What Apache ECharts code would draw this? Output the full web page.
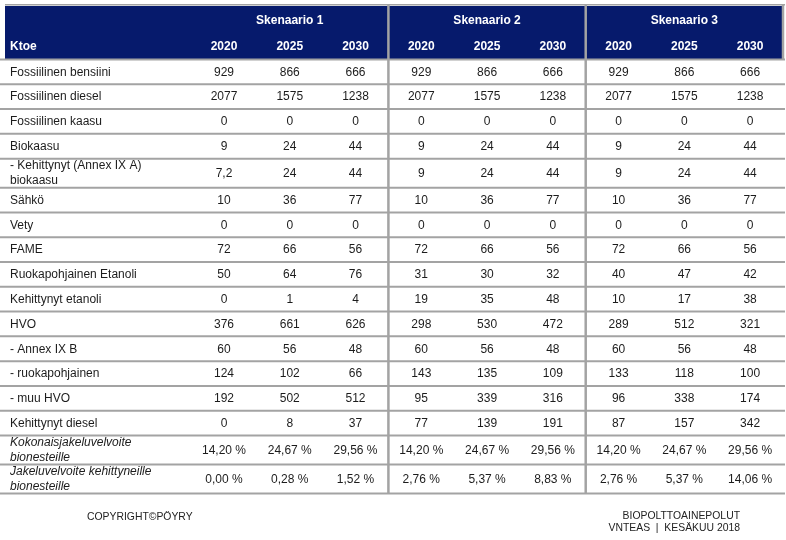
<!DOCTYPE html>
<html>
<head>
<meta charset="utf-8">
<script src="https://cdn.jsdelivr.net/npm/echarts@6/dist/echarts.min.js"></script>
<style>
html,body{margin:0;padding:0;background:#fff;}
#c{width:786px;height:540px;}
</style>
</head>
<body>
<div id="c"></div>
<script>
// ---------- DATA ----------
const categories = [
  'Fossiilinen bensiini',
  'Fossiilinen diesel',
  'Fossiilinen kaasu',
  'Biokaasu',
  '- Kehittynyt (Annex IX A)\nbiokaasu',
  'Sähkö',
  'Vety',
  'FAME',
  'Ruokapohjainen Etanoli',
  'Kehittynyt etanoli',
  'HVO',
  '- Annex IX B',
  '- ruokapohjainen',
  '- muu HVO',
  'Kehittynyt diesel',
  'Kokonaisjakeluvelvoite\nbionesteille',
  'Jakeluvelvoite kehittyneille\nbionesteille'
];
const percentRows = [15, 16];
const italicRows = [15, 16];
const unitLabel = 'Ktoe';
const scenarios = ['Skenaario 1', 'Skenaario 2', 'Skenaario 3'];
const years = ['2020', '2025', '2030'];

const s1_2020 = [929, 2077, 0, 9, 7.2, 10, 0, 72, 50, 0, 376, 60, 124, 192, 0, 14.20, 0.00];
const s1_2025 = [866, 1575, 0, 24, 24, 36, 0, 66, 64, 1, 661, 56, 102, 502, 8, 24.67, 0.28];
const s1_2030 = [666, 1238, 0, 44, 44, 77, 0, 56, 76, 4, 626, 48, 66, 512, 37, 29.56, 1.52];
const s2_2020 = [929, 2077, 0, 9, 9, 10, 0, 72, 31, 19, 298, 60, 143, 95, 77, 14.20, 2.76];
const s2_2025 = [866, 1575, 0, 24, 24, 36, 0, 66, 30, 35, 530, 56, 135, 339, 139, 24.67, 5.37];
const s2_2030 = [666, 1238, 0, 44, 44, 77, 0, 56, 32, 48, 472, 48, 109, 316, 191, 29.56, 8.83];
const s3_2020 = [929, 2077, 0, 9, 9, 10, 0, 72, 40, 10, 289, 60, 133, 96, 87, 14.20, 2.76];
const s3_2025 = [866, 1575, 0, 24, 24, 36, 0, 66, 47, 17, 512, 56, 118, 338, 157, 24.67, 5.37];
const s3_2030 = [666, 1238, 0, 44, 44, 77, 0, 56, 42, 38, 321, 48, 100, 174, 342, 29.56, 14.06];
const valueColumns = [s1_2020, s1_2025, s1_2030, s2_2020, s2_2025, s2_2030, s3_2020, s3_2025, s3_2030];

const footerLeft = 'COPYRIGHT©PÖYRY';
const footerRight1 = 'BIOPOLTTOAINEPOLUT';
const footerRight2 = 'VNTEAS  |  KESÄKUU 2018';

// ---------- LAYOUT (style) ----------
const NAVY = '#061a6c';
const GRID = '#a3a3a3';
const TEXT = '#1c1c1c';
const LABEL_UNITS = 2.83;       // width of label column in value-column units
const HEADER_H = [26.5, 26.5];
const NORMAL_H = 24.8;
const TALL_H = 29;
const tallRows = [4, 15, 16];

function fmt(v, row) {
  if (percentRows.indexOf(row) >= 0) return v.toFixed(2).replace('.', ',') + ' %';
  return String(v).replace('.', ',');
}

// row boundaries along y axis
const rowTop = [], rowBot = [];
let yAcc = HEADER_H[0] + HEADER_H[1];
const headerEnd = yAcc;
categories.forEach((c, i) => {
  const h = tallRows.indexOf(i) >= 0 ? TALL_H : NORMAL_H;
  rowTop.push(yAcc); yAcc += h; rowBot.push(yAcc);
});
const totalH = yAcc;

// cells: [x0, x1, y0, y1] + meta
const cells = [];
function add(x0, x1, y0, y1, meta) { cells.push(Object.assign({ value: [x0, x1, y0, y1] }, meta)); }

// header background
add(-LABEL_UNITS, 9, 0, headerEnd, { kind: 'bg' });
// scenario titles
scenarios.forEach((s, i) => add(i * 3, i * 3 + 3, 0, HEADER_H[0], { kind: 'htext', text: s, align: 'center' }));
// Ktoe + years
add(-LABEL_UNITS, 0, HEADER_H[0], headerEnd, { kind: 'htext', text: unitLabel, align: 'left' });
for (let c = 0; c < 9; c++) add(c, c + 1, HEADER_H[0], headerEnd, { kind: 'htext', text: years[c % 3], align: 'center' });
// row labels + values
categories.forEach((lab, r) => {
  add(-LABEL_UNITS, 0, rowTop[r], rowBot[r], { kind: 'label', text: lab, italic: italicRows.indexOf(r) >= 0 });
  valueColumns.forEach((col, c) => add(c, c + 1, rowTop[r], rowBot[r], { kind: 'value', text: fmt(col[r], r) }));
});
// horizontal rules
add(-LABEL_UNITS, 9, 0, 0, { kind: 'top' });
add(-LABEL_UNITS, 9, headerEnd, headerEnd, { kind: 'hline' });
categories.forEach((lab, r) => add(-LABEL_UNITS, 9, rowBot[r], rowBot[r], { kind: 'hline' }));
// vertical rules
add(3, 3, 0, totalH, { kind: 'vline' });
add(6, 6, 0, totalH, { kind: 'vline' });
add(9, 9, 0, headerEnd, { kind: 'vline' });

const chart = echarts.init(document.getElementById('c'), null, { renderer: 'canvas' });
const FONT = '"Liberation Sans", Arial, Helvetica, sans-serif';

chart.setOption({
  animation: false,
  grid: { left: 5, right: 3, top: 6, bottom: 47 },
  xAxis: { type: 'value', min: -LABEL_UNITS, max: 9, show: false },
  yAxis: { type: 'value', min: 0, max: totalH, inverse: true, show: false },
  series: [{
    type: 'custom',
    coordinateSystem: 'cartesian2d',
    encode: { x: [0, 1], y: [2, 3] },
    clip: false,
    data: cells,
    renderItem: function (params, api) {
      const d = cells[params.dataIndex];
      const p0 = api.coord([api.value(0), api.value(2)]);
      const p1 = api.coord([api.value(1), api.value(3)]);
      const x0 = p0[0], y0 = p0[1], x1 = p1[0], y1 = p1[1];
      const cy = (y0 + y1) / 2;
      switch (d.kind) {
        case 'bg':
          return { type: 'rect', shape: { x: x0, y: y0, width: x1 - x0, height: y1 - y0 }, style: { fill: NAVY } };
        case 'htext':
          return { type: 'text', style: {
            text: d.text, x: d.align === 'left' ? x0 + 5 : (x0 + x1) / 2, y: cy + 1,
            align: d.align, verticalAlign: 'middle', fill: '#ffffff',
            font: 'bold 12px ' + FONT } };
        case 'label':
          return { type: 'text', style: {
            text: d.text, x: x0 + 5, y: cy + 1, align: 'left', verticalAlign: 'middle',
            fill: TEXT, lineHeight: 15,
            font: (d.italic ? 'italic ' : '') + '12px ' + FONT } };
        case 'value':
          return { type: 'text', style: {
            text: d.text, x: (x0 + x1) / 2, y: cy + 1, align: 'center', verticalAlign: 'middle',
            fill: TEXT, font: '12px ' + FONT } };
        case 'top':
          return { type: 'line', shape: { x1: x0, y1: y0 - 1.2, x2: x1 + 2, y2: y0 - 1.2 }, style: { stroke: GRID, lineWidth: 1.6 } };
        case 'hline':
          return { type: 'line', shape: { x1: x0 - 5, y1: y0 + 0.5, x2: x1 + 2, y2: y0 + 0.5 }, style: { stroke: GRID, lineWidth: 2 } };
        case 'vline':
          return { type: 'line', shape: { x1: x0, y1: y0 - 2, x2: x0, y2: y1 + 1 }, style: { stroke: GRID, lineWidth: 2.5 } };
      }
      return null;
    }
  }],
  graphic: [
    { type: 'text', left: 87, top: 512, style: { text: footerLeft, fill: '#222', font: '10.4px ' + FONT } },
    { type: 'text', right: 46, top: 511.5, style: { text: footerRight1, fill: '#222', font: '10.4px ' + FONT, align: 'right' } },
    { type: 'text', right: 46, top: 523.5, style: { text: footerRight2, fill: '#222', font: '10.4px ' + FONT, align: 'right' } }
  ]
});
</script>
</body>
</html>
